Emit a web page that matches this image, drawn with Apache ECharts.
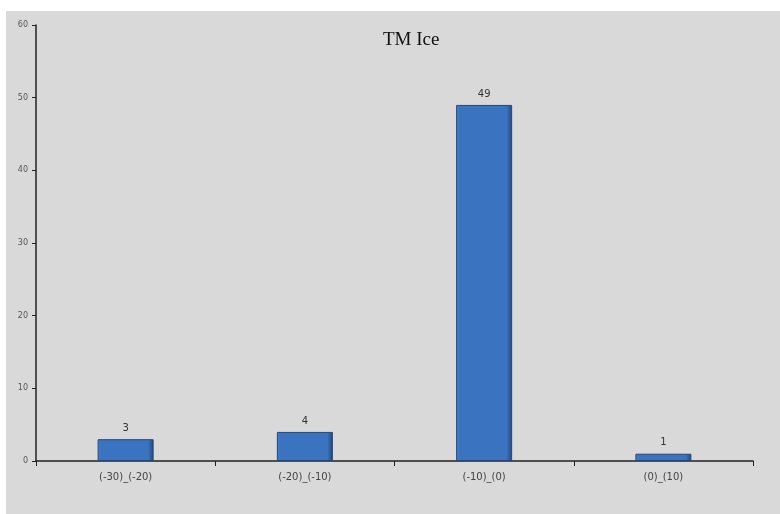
<!DOCTYPE html>
<html>
<head>
<meta charset="utf-8">
<script src="https://cdn.jsdelivr.net/npm/echarts@6/dist/echarts.min.js"></script>
<style>
html,body{margin:0;padding:0;background:#fff;}
#c{width:780px;height:514px;}
</style>
</head>
<body>
<div id="c"></div>
<script>
var categories = ['(-30)_(-20)', '(-20)_(-10)', '(-10)_(0)', '(0)_(10)'];
var counts = [3, 4, 49, 1];
var yTicks = { min: 0, max: 60, interval: 10 };
var chartTitle = 'TM Ice';

var chart = echarts.init(document.getElementById('c'), null, { renderer: 'canvas' });
chart.setOption({
  backgroundColor: '#ffffff',
  animation: false,
  graphic: [{
    type: 'rect', z: -10, silent: true,
    shape: { x: 6, y: 11, width: 774, height: 503 },
    style: { fill: '#d9d9d9' }
  }],
  title: {
    text: chartTitle,
    left: 378, top: 26,
    textStyle: { fontFamily: 'Liberation Serif', fontWeight: 'normal', fontSize: 19, color: '#111' }
  },
  grid: { left: 36, right: 27, top: 25, bottom: 53, containLabel: false },
  xAxis: {
    type: 'category',
    data: categories,
    axisLine: { lineStyle: { color: '#222', width: 1.5 } },
    axisTick: { show: true, length: 5, lineStyle: { color: '#222' } },
    axisLabel: { fontFamily: 'DejaVu Sans', fontSize: 10, color: '#444', margin: 11 },
    splitLine: { show: false }
  },
  yAxis: {
    type: 'value',
    min: yTicks.min, max: yTicks.max, interval: yTicks.interval,
    axisLine: { show: true, lineStyle: { color: '#222', width: 1.5 } },
    axisTick: { show: true, length: 4, lineStyle: { color: '#222' } },
    axisLabel: { fontFamily: 'DejaVu Sans', fontSize: 8, color: '#555', margin: 8 },
    splitLine: { show: false }
  },
  series: [{
    type: 'bar',
    data: counts,
    barWidth: 56,
    itemStyle: {
      color: new echarts.graphic.LinearGradient(0, 0, 1, 0, [
        { offset: 0, color: '#4a84cf' },
        { offset: 0.06, color: '#3a74c0' },
        { offset: 0.9, color: '#3a74c0' },
        { offset: 1, color: '#22477a' }
      ]),
      borderColor: '#24467a',
      borderWidth: 1
    },
    label: {
      show: true, position: 'top', distance: 6,
      fontFamily: 'DejaVu Sans', fontSize: 10, color: '#333'
    }
  }]
});
</script>
</body>
</html>
